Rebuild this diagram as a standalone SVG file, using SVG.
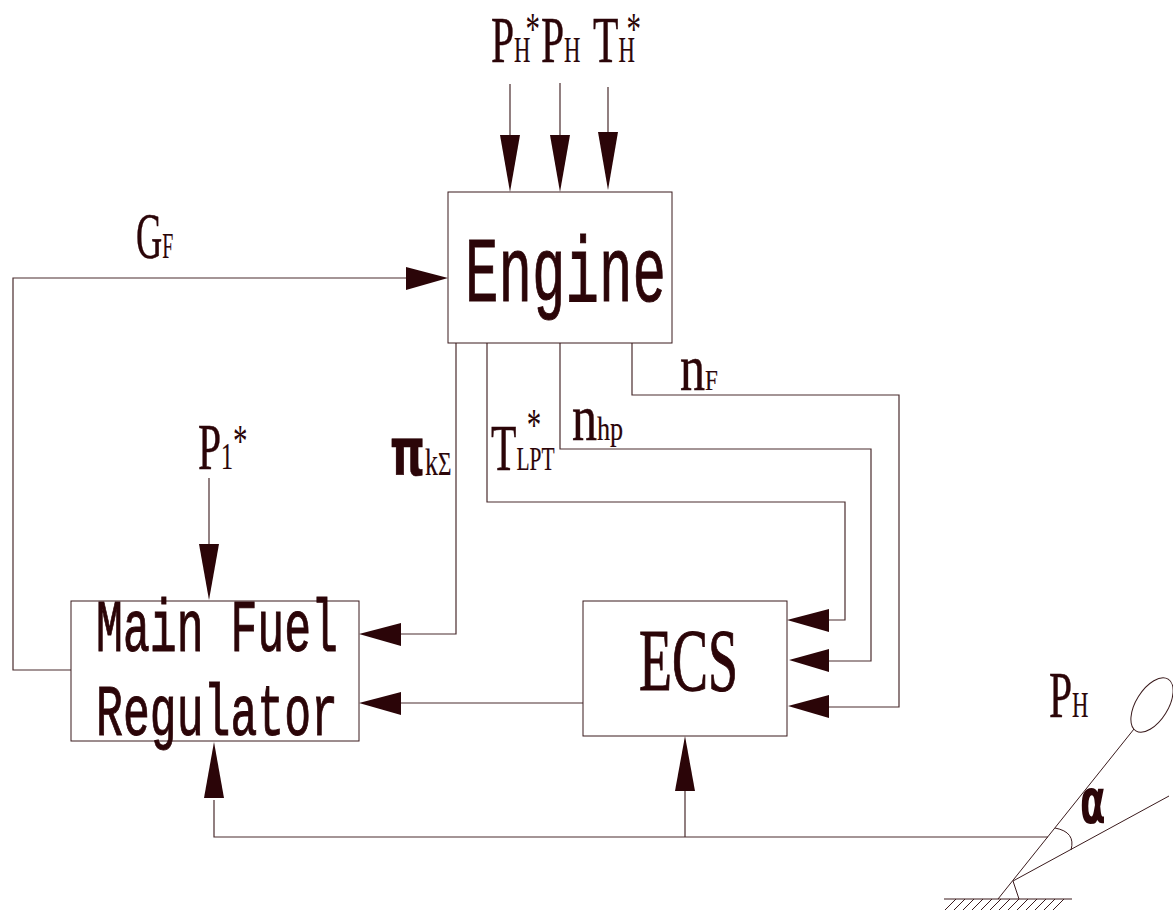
<svg xmlns="http://www.w3.org/2000/svg" width="1173" height="911" viewBox="0 0 1173 911">
<style>
text{font-family:"Liberation Serif","DejaVu Serif",serif;fill:#2b0508}
.big{stroke:#2b0508;stroke-width:1}
.mono{font-family:"Liberation Mono","DejaVu Sans Mono",monospace}
.lab{font-size:66px;stroke:#2b0508;stroke-width:.5}
.sub{font-size:36px;stroke-width:.2}
.star{font-size:46px;stroke:none}
.box{fill:none;stroke:#3a1a1c;stroke-width:1}
.w{fill:none;stroke:#4a2c2e;stroke-width:1.2}
.h{fill:#2b0508;stroke:none}
.sans{font-family:"DejaVu Sans","Liberation Sans",sans-serif;font-weight:bold}
</style>
<rect width="1173" height="911" fill="#fff"/>
<g id="connectors">
<path class="w" d="M510 84V160M560 83V160M608 87V158"/>
<polygon class="h" points="500,135 520,135 510,192"/>
<polygon class="h" points="550,135 570,135 560,192"/>
<polygon class="h" points="598,132 618,132 608,190"/>
<path class="w" d="M71 670H13V278H410"/>
<polygon class="h" points="406,267 406,290 448,278"/>
<path class="w" d="M209 478V550"/>
<polygon class="h" points="199,544 219,544 209,600"/>
<path class="w" d="M456 343V634H395"/>
<polygon class="h" points="401,623 401,646 359,634"/>
<path class="w" d="M487 343V502H845V620H825"/>
<polygon class="h" points="829,609 829,632 787,620"/>
<path class="w" d="M560 343V449H871V661H825"/>
<polygon class="h" points="829,649 829,672 789,660"/>
<path class="w" d="M632 343V395H899V707H825"/>
<polygon class="h" points="829,695 829,718 788,706"/>
<path class="w" d="M583 703H395"/>
<polygon class="h" points="401,692 401,715 359,703"/>
<path class="w" d="M1048 837H214V800M685 837V790"/>
<polygon class="h" points="204,798 224,798 214,742"/>
<polygon class="h" points="675,791 695,791 685,736"/>
</g>
<g id="engine"><rect class="box" x="448" y="192" width="224" height="151"/>
<text class="mono big" x="465" y="301" font-size="92" textLength="201" lengthAdjust="spacingAndGlyphs">Engine</text></g>
<g id="main-fuel-regulator"><rect class="box" x="71" y="601" width="288" height="140"/>
<text class="mono big" x="96" y="651" font-size="74" textLength="242" lengthAdjust="spacingAndGlyphs">Main Fuel</text>
<text class="mono big" x="96" y="735" font-size="72" textLength="242" lengthAdjust="spacingAndGlyphs">Regulator</text></g>
<g id="ecs"><rect class="box" x="583" y="601" width="204" height="135"/>
<text class="big" x="639" y="690" font-size="88" textLength="99" lengthAdjust="spacingAndGlyphs">ECS</text></g>
<g id="labels">
<text class="lab" transform="translate(491 62) scale(.63 1)">P<tspan class="sub">H</tspan><tspan class="star" dx="-8" dy="-17">*</tspan></text>
<text class="lab" transform="translate(541 62) scale(.63 1)">P<tspan class="sub">H</tspan></text>
<text class="lab" transform="translate(593 62) scale(.63 1)">T<tspan class="sub">H</tspan><tspan class="star" dx="-13" dy="-17">*</tspan></text>
<text class="lab" transform="translate(136 258) scale(.55 1)">G<tspan class="sub">F</tspan></text>
<text class="lab" transform="translate(198 469) scale(.63 1)">P<tspan class="sub" style="font-size:38px">1</tspan><tspan class="star" dy="-12">*</tspan></text>
<text class="lab" transform="translate(390 475) scale(.68 1)"><tspan class="sans" style="font-size:65px">π</tspan><tspan class="sub" style="font-size:38px">k</tspan><tspan class="sub" style="font-size:34px">Σ</tspan></text>
<text class="lab" transform="translate(491 470) scale(.63 1)">T<tspan class="sub" style="font-size:34px">LPT</tspan><tspan class="star" dx="-44" dy="-29">*</tspan></text>
<text class="lab" style="font-size:65px" transform="translate(572 440) scale(.77 1)">n<tspan class="sub" style="font-size:34px">hp</tspan></text>
<text class="lab" style="font-size:65px" transform="translate(680 390) scale(.77 1)">n<tspan class="sub" style="font-size:30px">F</tspan></text>
<text class="lab" transform="translate(1049 717) scale(.63 1)">P<tspan class="sub">H</tspan></text>
<text class="sans" transform="translate(1080 823) scale(.6 1)" font-size="62">α</text>
</g>
<g id="throttle">
<ellipse class="box" cx="1152" cy="705" rx="16" ry="30.5" transform="rotate(32 1152 705)"/>
<path class="box" d="M998 899L1134 729M1013 881L1169 796M1013 881L1019 899M1055 828Q1076 832 1071 850"/>
<path class="box" d="M944 899H1072M945 910l11-11M954 910l11-11M963 910l11-11M972 910l11-11M981 910l11-11M990 910l11-11M999 910l11-11M1008 910l11-11M1017 910l11-11M1026 910l11-11M1035 910l11-11M1044 910l11-11M1053 910l11-11"/>
</g>
</svg>
